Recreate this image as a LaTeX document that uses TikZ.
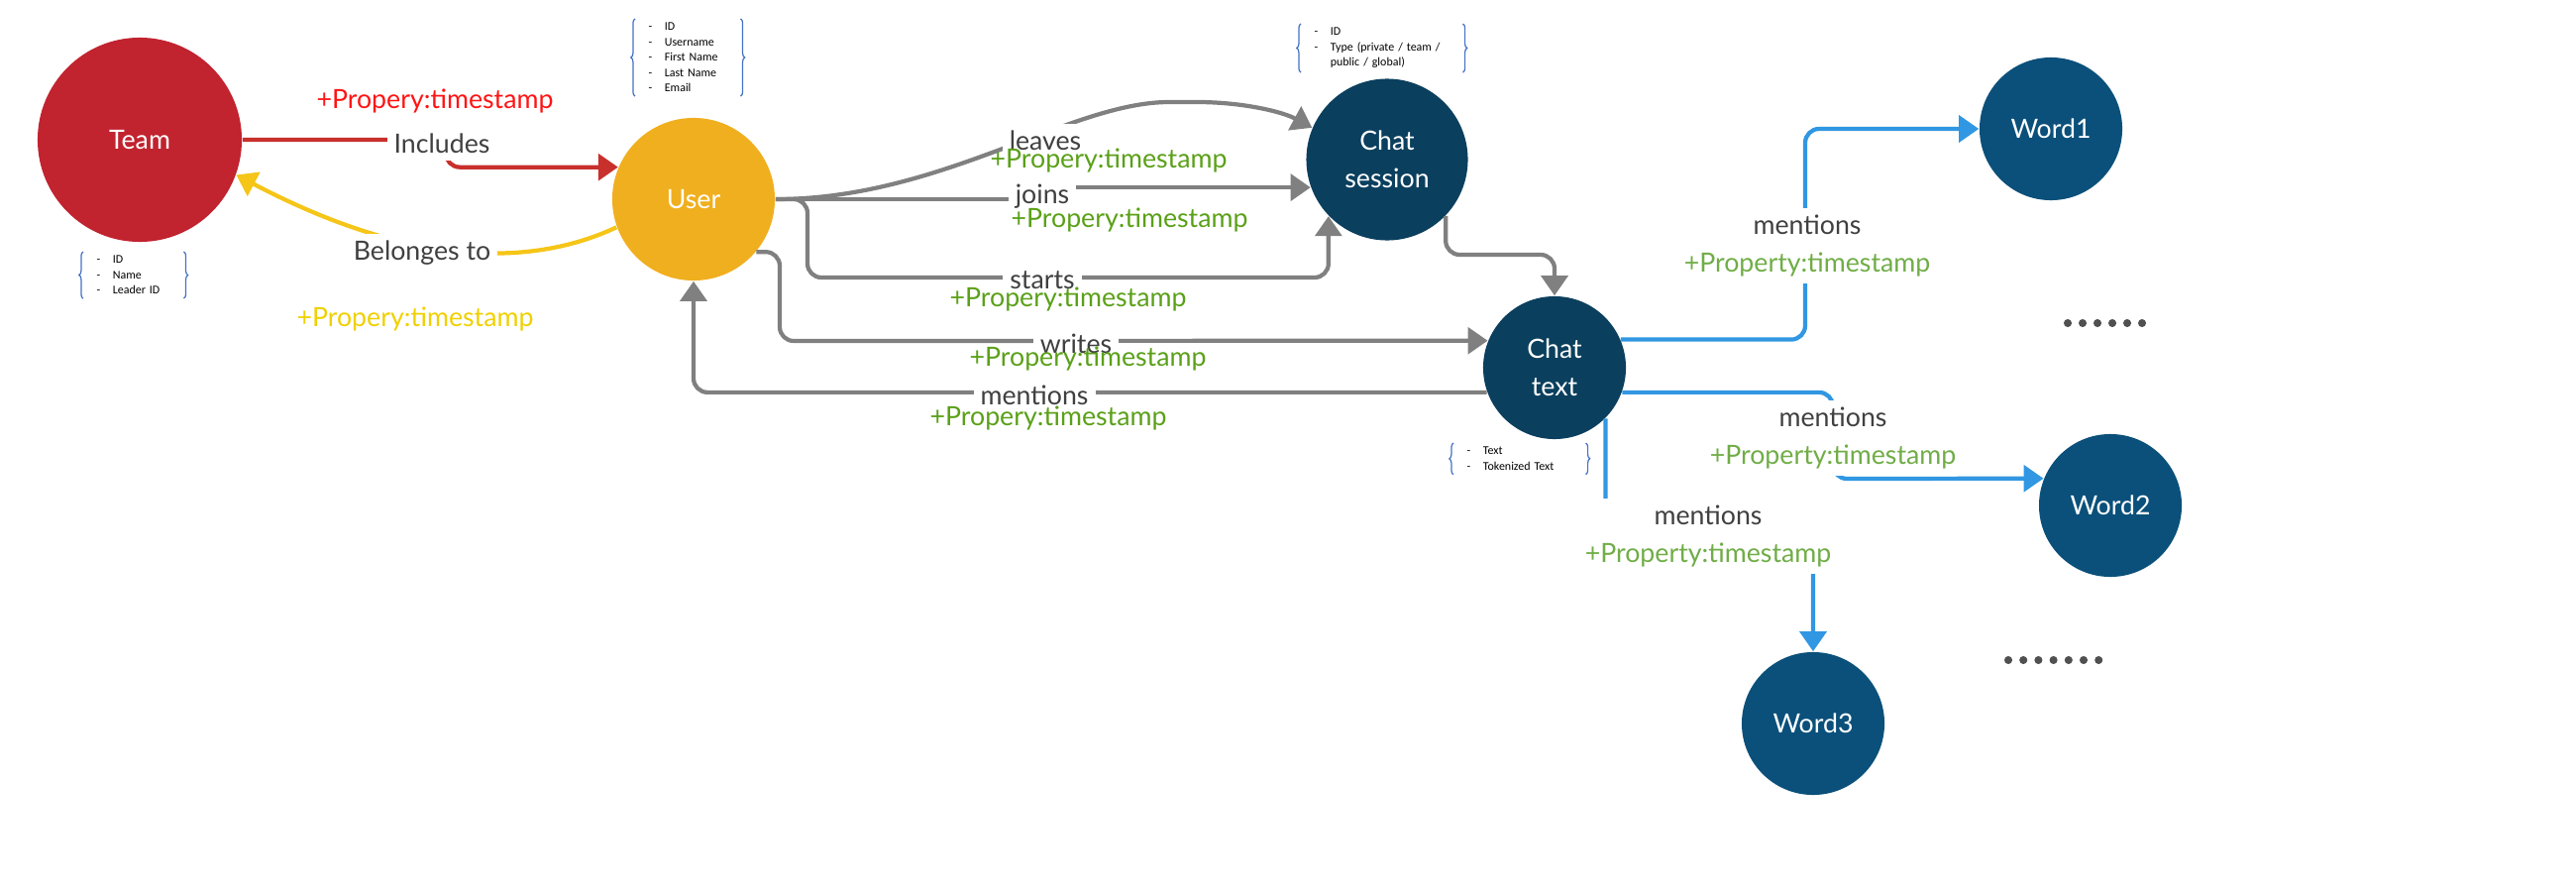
\documentclass[tikz,border=0pt]{standalone}
\usepackage{fontspec}
\setmainfont{Lato}
\newfontfamily\attrfont{Carlito}
\usetikzlibrary{arrows.meta,decorations.pathreplacing}

\definecolor{teamred}{RGB}{193,35,47}
\definecolor{userorange}{RGB}{240,175,30}
\definecolor{chatnavy}{RGB}{11,63,94}
\definecolor{wordblue}{RGB}{10,80,122}
\definecolor{edgegray}{RGB}{128,128,128}
\definecolor{edgered}{RGB}{200,48,44}
\definecolor{edgeyellow}{RGB}{245,197,24}
\definecolor{edgeblue}{RGB}{49,151,226}
\definecolor{lblgray}{RGB}{64,64,64}
\definecolor{tsred}{RGB}{255,20,20}
\definecolor{tsyellow}{RGB}{240,208,0}
\definecolor{tsgreen}{RGB}{90,160,24}
\definecolor{tslight}{RGB}{112,173,71}
\definecolor{bracecol}{RGB}{68,114,196}
\definecolor{dotgray}{RGB}{80,80,80}

\newcommand{\attline}[1]{\makebox[4.6pt][l]{-}#1}

\tikzset{
  ent/.style={circle, text=white, align=center, inner sep=0pt,
              font=\fontsize{7.6}{10.8}\selectfont},
  word/.style={ent, fill=wordblue, minimum size=1.44cm},
  link/.style={line width=1.2pt, rounded corners=4pt,
               -{Triangle[length=5.7pt,width=7.6pt]}},
  graylink/.style={link, draw=edgegray},
  bluelink/.style={link, draw=edgeblue},
  lbl/.style={fill=white, text=lblgray, inner sep=2pt,
              font=\fontsize{7.6}{10.8}\selectfont},
  ts/.style={inner sep=0pt, font=\fontsize{7.6}{10.8}\selectfont},
  attr/.style={anchor=north west, align=left, inner xsep=0.13cm, inner ysep=1pt,
               font=\attrfont\fontsize{3.4}{4.4}\selectfont},
  attrbrace/.style={draw=bracecol, line width=0.35pt, decorate,
                    decoration={brace, amplitude=1.2pt}}
}

\begin{document}
\begin{tikzpicture}[x=0.01cm, y=-0.01cm]
\useasboundingbox (0,0) rectangle (2600,900);

% entities
\node[ent, fill=teamred, minimum size=2.06cm] (team) at (141,141) {Team};
\node[ent, fill=userorange, minimum size=1.64cm] (user) at (700,201) {User};
\node[ent, fill=chatnavy, minimum size=1.63cm] (session) at (1400,161) {Chat\\session};
\node[ent, fill=chatnavy, minimum size=1.44cm] (chattext) at (1569,371) {Chat\\text};
\node[word] (word1) at (2070,130) {Word1};
\node[word] (word2) at (2130,510) {Word2};
\node[word] (word3) at (1830,730) {Word3};

% attribute lists
\node[attr, text width=0.74cm] (teamattr) at (84,254)
  {\attline{ID}\\\attline{Name}\\\attline{Leader ID}};
\node[attr, text width=0.79cm] (userattr) at (641,19)
  {\attline{ID}\\\attline{Username}\\\attline{First Name}\\\attline{Last Name}\\\attline{Email}};
\node[attr, text width=1.36cm] (sessattr) at (1313,24)
  {\attline{ID}\\\attline{Type (private / team /}\\\hspace*{4.6pt}public / global)};
\node[attr, text width=1.06cm] (textattr) at (1467,447)
  {\attline{Text}\\\attline{Tokenized Text}};
\foreach \n in {teamattr,userattr,sessattr,textattr}{
  \draw[attrbrace] (\n.south west) -- (\n.north west);
  \draw[attrbrace] (\n.north east) -- (\n.south east);
}

% team <-> user
\draw[link, draw=edgered] (team.east) -- (450,141) |- (user.157);
\draw[link, draw=edgeyellow] (user.200) .. controls (540,268) and (420,272) .. (team.-20);

% user -> chat
\draw[graylink] (user.east) .. controls (950,201) and (1080,103) .. (1194,103)
  .. controls (1255,103) and (1295,113) .. (session.157);
\draw[graylink, sharp corners] (user.east) -- (1050,201) |- (session.200);
\draw[graylink] (user.east) -| (815,280) -| (session.-136);
\draw[graylink] (user.-40) -| (787,344) -- (chattext.158);
\draw[graylink] (chattext.200) -| (user.south);
\draw[graylink] (session.-44) |- (1540,257) -| (chattext.north);

% chat text -> words
\draw[bluelink] (chattext.23) -| (1822,130) -- (word1.west);
\draw[bluelink] (chattext.-20) -| (1850,483) -- (word2.158);
\draw[bluelink] (chattext.-45) |- (1830,540) -- (word3.north);

% labels
\node[lbl] (inclbl) at (446,145) {Includes};
\node[ts, text=tsred] (incts) at (439,102) {+Propery:timestamp};
\node[lbl] (belonglbl) at (426,255) {Belonges to};
\node[ts, text=tsyellow] (belongts) at (419,322) {+Propery:timestamp};

\node[lbl] (leaveslbl) at (1055,142) {leaves};
\node[lbl] (joinslbl) at (1052,198) {joins};
\node[lbl] (startslbl) at (1052,283) {starts};
\node[lbl] (writeslbl) at (1086,347) {writes};
\node[lbl] (mentlbl) at (1044,399) {mentions};
\node[ts, text=tsgreen] (leavests) at (1119,162) {+Propery:timestamp};
\node[ts, text=tsgreen] (joinsts) at (1140,222) {+Propery:timestamp};
\node[ts, text=tsgreen] (startsts) at (1078,302) {+Propery:timestamp};
\node[ts, text=tsgreen] (writests) at (1098,362) {+Propery:timestamp};
\node[ts, text=tsgreen] (mentts) at (1058,422) {+Propery:timestamp};

\node[lbl, align=center] (w1lbl) at (1824,248) {mentions\\\textcolor{tslight}{+Property:timestamp}};
\node[lbl, align=center] (w2lbl) at (1850,442) {mentions\\\textcolor{tslight}{+Property:timestamp}};
\node[lbl, align=center] (w3lbl) at (1724,541) {mentions\\\textcolor{tslight}{+Property:timestamp}};

% more words
\foreach \i in {0,...,5} \fill[dotgray] (2087+\i*15,326) circle (1.15pt);
\foreach \i in {0,...,6} \fill[dotgray] (2027+\i*15.2,666) circle (1.15pt);
\end{tikzpicture}
\end{document}
